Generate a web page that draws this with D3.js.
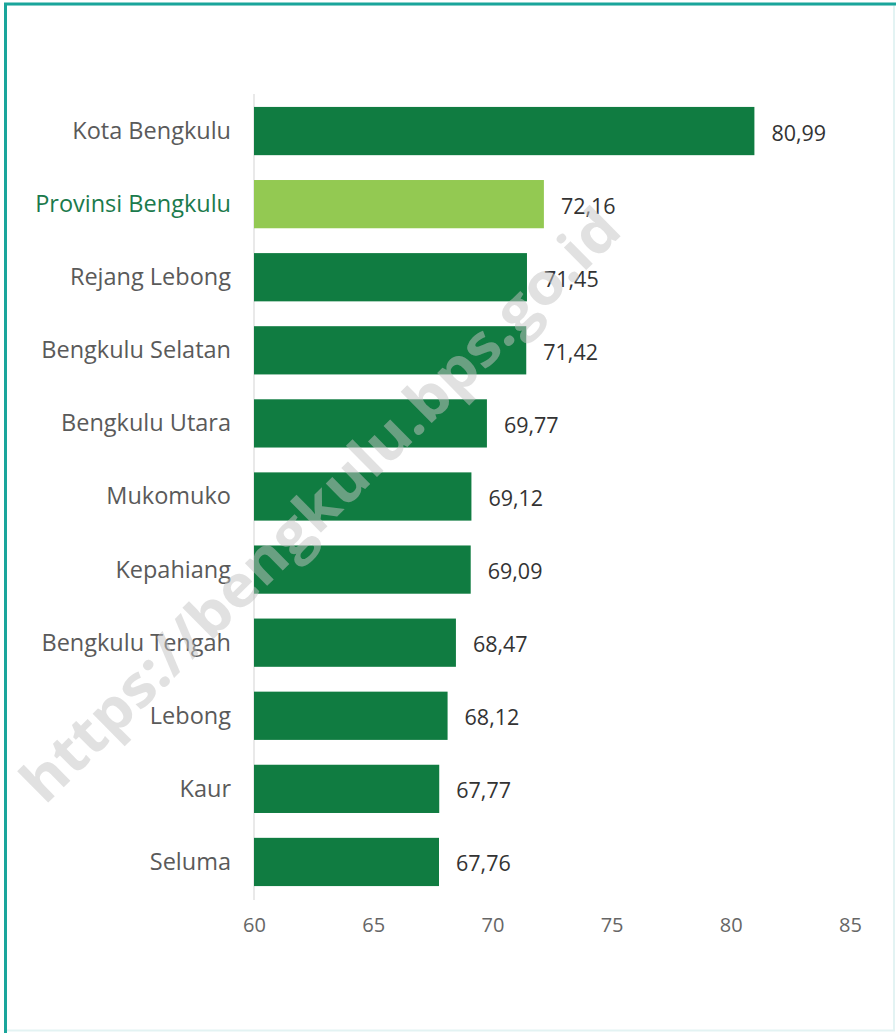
<!DOCTYPE html>
<html>
<head>
<meta charset="utf-8">
<script src="https://cdn.jsdelivr.net/npm/d3@7"></script>
<style>
html,body{margin:0;padding:0;background:#fff;}
svg{display:block;}
</style>
</head>
<body>
<script>
const categories = ["Kota Bengkulu","Provinsi Bengkulu","Rejang Lebong","Bengkulu Selatan","Bengkulu Utara","Mukomuko","Kepahiang","Bengkulu Tengah","Lebong","Kaur","Seluma"];
const values = [80.99,72.16,71.45,71.42,69.77,69.12,69.09,68.47,68.12,67.77,67.76];
const valueLabels = ["80,99","72,16","71,45","71,42","69,77","69,12","69,09","68,47","68,12","67,77","67,76"];
const tickValues = [60,65,70,75,80,85];
const highlight = "Provinsi Bengkulu";

const W = 896, H = 1033;
const svg = d3.select("body").append("svg").attr("width", W).attr("height", H);

// frame
svg.append("rect").attr("x",0).attr("y",0).attr("width",W).attr("height",H).attr("fill","#fff");
svg.append("rect").attr("x",6).attr("y",4.5).attr("width",W-8).attr("height",H-7)
  .attr("fill","none").attr("stroke","#e3f3f3").attr("stroke-width",2);
svg.append("line").attr("x1",5.5).attr("x2",5.5).attr("y1",3).attr("y2",H).attr("stroke","#1aa59b").attr("stroke-width",3);
svg.append("line").attr("x1",4).attr("x2",W).attr("y1",4).attr("y2",4).attr("stroke","#1aa59b").attr("stroke-width",3);

const x = d3.scaleLinear().domain([60,85]).range([254,850]);
const y = d3.scaleBand().domain(categories).range([94.5,898.5]).paddingInner(0.34).paddingOuter(0.17);

// vertical axis line
svg.append("line").attr("x1",x(60)).attr("x2",x(60)).attr("y1",94).attr("y2",900)
  .attr("stroke","#e2e2e2").attr("stroke-width",1.5);

// bars
svg.selectAll("rect.bar").data(categories).join("rect").attr("class","bar")
  .attr("x", x(60))
  .attr("y", d => y(d))
  .attr("width", (d,i) => x(values[i]) - x(60))
  .attr("height", y.bandwidth())
  .attr("fill", d => d === highlight ? "#93c952" : "#107c41");

// category labels
svg.selectAll("text.cat").data(categories).join("text").attr("class","cat")
  .attr("x", 231)
  .attr("y", d => y(d) + y.bandwidth()/2)
  .attr("dy","0.34em")
  .attr("text-anchor","end")
  .attr("font-family","'Open Sans', sans-serif")
  .attr("font-size", 23.5)
  .attr("fill", d => d === highlight ? "#1b7a4c" : "#5a5a5a")
  .text(d => d);

// value labels
svg.selectAll("text.val").data(categories).join("text").attr("class","val")
  .attr("x", (d,i) => x(values[i]) + 17)
  .attr("y", d => y(d) + y.bandwidth()/2 + 2)
  .attr("dy","0.35em")
  .attr("font-family","'Open Sans', sans-serif")
  .attr("font-size", 21.5)
  .attr("fill","#333")
  .text((d,i) => valueLabels[i]);

// x axis
const axis = d3.axisBottom(x).tickValues(tickValues).tickSize(0).tickPadding(0).tickFormat(d3.format("d"));
const g = svg.append("g").attr("transform","translate(0,918)").call(axis);
g.select(".domain").remove();
g.selectAll("text").attr("font-family","'Open Sans', sans-serif").attr("font-size",20).attr("fill","#666").attr("dy","0.71em");

// watermark (overlay)
svg.append("text")
  .attr("transform","translate(320,505) rotate(-44.7)")
  .attr("text-anchor","middle")
  .attr("dy","0.35em")
  .attr("font-family","'Open Sans', sans-serif")
  .attr("font-weight","bold")
  .attr("font-size",58)
  .attr("textLength",815)
  .attr("lengthAdjust","spacingAndGlyphs")
  .attr("fill","#c4c4c4")
  .attr("fill-opacity",0.5)
  .text("https://bengkulu.bps.go.id");
</script>
</body>
</html>
